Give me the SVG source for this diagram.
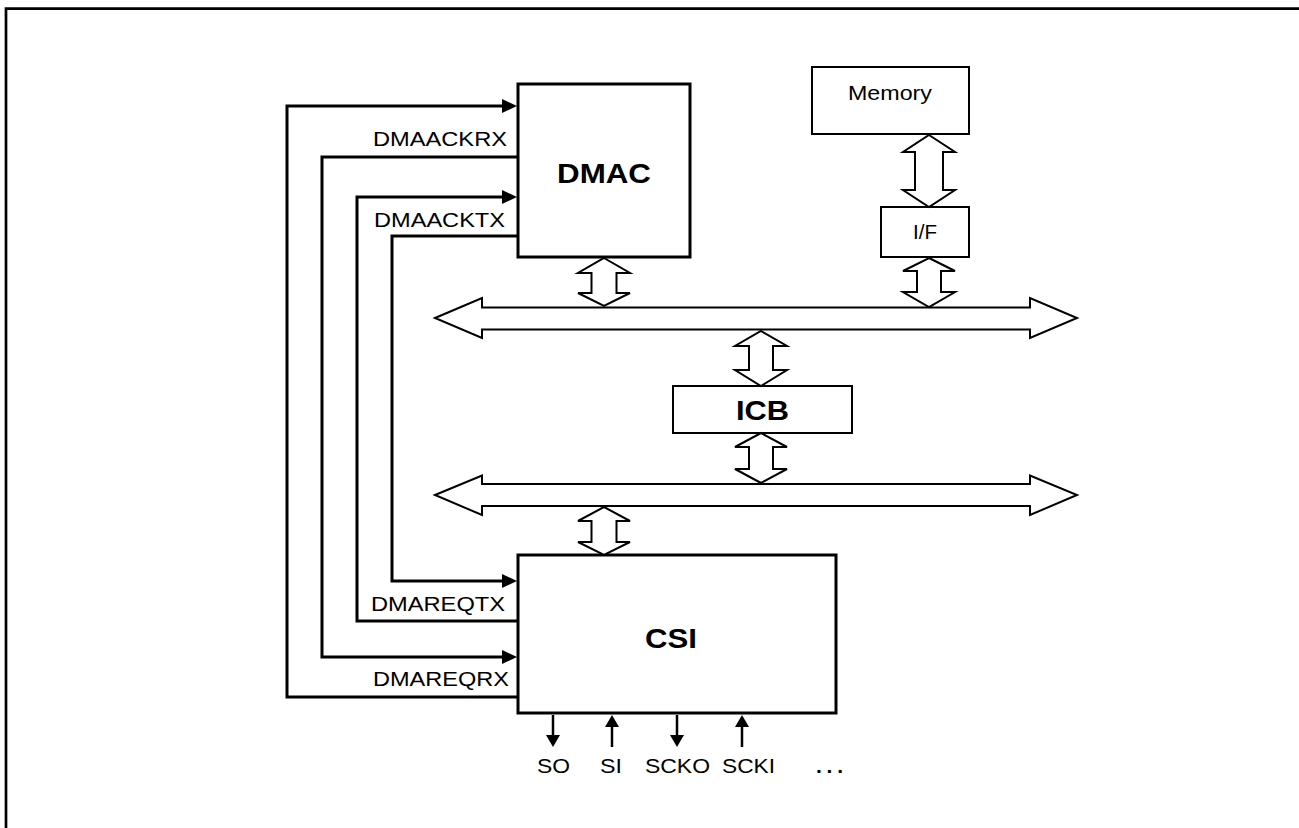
<svg xmlns="http://www.w3.org/2000/svg" width="1299" height="828" viewBox="0 0 1299 828">
<style>
text{font-family:"Liberation Sans",Arial,sans-serif;fill:#000}
.lbl{font-size:21px}
.big{font-size:28px;font-weight:bold}
.box{fill:#fff;stroke:#000}
.thick{stroke-width:3}
.thin{stroke-width:2}
.bus{fill:#fff;stroke:#000;stroke-width:2;stroke-linejoin:miter}
.sig{fill:none;stroke:#000;stroke-width:3}
</style>
<defs>
<marker id="ah" markerUnits="userSpaceOnUse" markerWidth="16" markerHeight="14" refX="0" refY="7" orient="auto">
<path d="M0,0 L15,7 L0,14 z" fill="#000"/>
</marker>
<marker id="ahs" markerUnits="userSpaceOnUse" markerWidth="13" markerHeight="14" refX="0" refY="7" orient="auto">
<path d="M0,0 L12,7 L0,14 z" fill="#000"/>
</marker>
</defs>
<rect width="1299" height="828" fill="#fff"/>
<path d="M6 828 V8.7 H1299" fill="none" stroke="#000" stroke-width="2.7"/>

<g id="bus-upper">
<polygon class="bus" points="435,318 482,298 482,307.5 1030,307.5 1030,298 1077,318 1030,338 1030,329.5 482,329.5 482,338"/>
</g>
<g id="bus-lower">
<polygon class="bus" points="435,495 482,475.5 482,484 1030,484 1030,475.5 1077,495 1030,515 1030,506 482,506 482,515"/>
</g>

<g id="dmac">
<rect class="box thick" x="518" y="84" width="172" height="173"/>
<text class="big" x="604" y="183" text-anchor="middle" textLength="94" lengthAdjust="spacingAndGlyphs">DMAC</text>
</g>
<g id="memory">
<rect class="box thin" x="812" y="67" width="157" height="67"/>
<text class="lbl" x="848" y="100" textLength="84" lengthAdjust="spacingAndGlyphs">Memory</text>
</g>
<g id="if">
<rect class="box thin" x="881" y="207" width="88" height="50"/>
<text class="lbl" x="913" y="239" textLength="24" lengthAdjust="spacingAndGlyphs">I/F</text>
</g>
<g id="icb">
<rect class="box thin" x="673" y="386" width="179" height="47"/>
<text class="big" x="736" y="420" textLength="53" lengthAdjust="spacingAndGlyphs">ICB</text>
</g>
<g id="csi">
<rect class="box thick" x="518" y="555" width="318" height="158"/>
<text class="big" x="645" y="648" textLength="52" lengthAdjust="spacingAndGlyphs">CSI</text>
</g>

<g id="connectors">
<g id="bus-links">
<polygon class="bus" points="604,258 630,273 616.5,273 616.5,293 630,293 604,306 578,293 591.5,293 591.5,273 578,273"/>
<polygon class="bus" points="929,135 955,152 943,152 943,190 955,190 929,207 903,190 915,190 915,152 903,152"/>
<polygon class="bus" points="929,258 955,271 941,271 941,292 955,292 929,307 903,292 917,292 917,271 903,271"/>
<polygon class="bus" points="761,331 787,346 773,346 773,370 787,370 761,386 735,370 749,370 749,346 735,346"/>
<polygon class="bus" points="761,433 787,447 773,447 773,469 787,469 761,483 735,469 749,469 749,447 735,447"/>
<polygon class="bus" points="604,507 630,521 616.5,521 616.5,542 630,542 604,555 578,542 591.5,542 591.5,521 578,521"/>
</g>
<g id="dma-signals">
<path class="sig" d="M518 697 H287 V106 H502" marker-end="url(#ah)"/>
<path class="sig" d="M518 157 H322 V657 H502" marker-end="url(#ah)"/>
<path class="sig" d="M518 621 H357 V197 H502" marker-end="url(#ah)"/>
<path class="sig" d="M518 236 H392 V581 H502" marker-end="url(#ah)"/>
</g>
<g id="csi-pins">
<path class="sig" d="M553 715 V735" marker-end="url(#ahs)" style="stroke-width:2.5"/>
<path class="sig" d="M612 747 V727" marker-end="url(#ahs)" style="stroke-width:2.5"/>
<path class="sig" d="M677 715 V735" marker-end="url(#ahs)" style="stroke-width:2.5"/>
<path class="sig" d="M742 747 V727" marker-end="url(#ahs)" style="stroke-width:2.5"/>
</g>
<g id="signal-labels">
<text class="lbl" x="373" y="146" textLength="134" lengthAdjust="spacingAndGlyphs">DMAACKRX</text>
<text class="lbl" x="374" y="227" textLength="131" lengthAdjust="spacingAndGlyphs">DMAACKTX</text>
<text class="lbl" x="371" y="611" textLength="134" lengthAdjust="spacingAndGlyphs">DMAREQTX</text>
<text class="lbl" x="373" y="686" textLength="136" lengthAdjust="spacingAndGlyphs">DMAREQRX</text>
<text class="lbl" x="537" y="773" textLength="33" lengthAdjust="spacingAndGlyphs">SO</text>
<text class="lbl" x="600" y="773" textLength="22" lengthAdjust="spacingAndGlyphs">SI</text>
<text class="lbl" x="645" y="773" textLength="65" lengthAdjust="spacingAndGlyphs">SCKO</text>
<text class="lbl" x="722" y="773" textLength="53" lengthAdjust="spacingAndGlyphs">SCKI</text>
<text class="lbl" x="816" y="773" font-weight="bold" textLength="27" lengthAdjust="spacing">...</text>
</g>
</g>
</svg>
